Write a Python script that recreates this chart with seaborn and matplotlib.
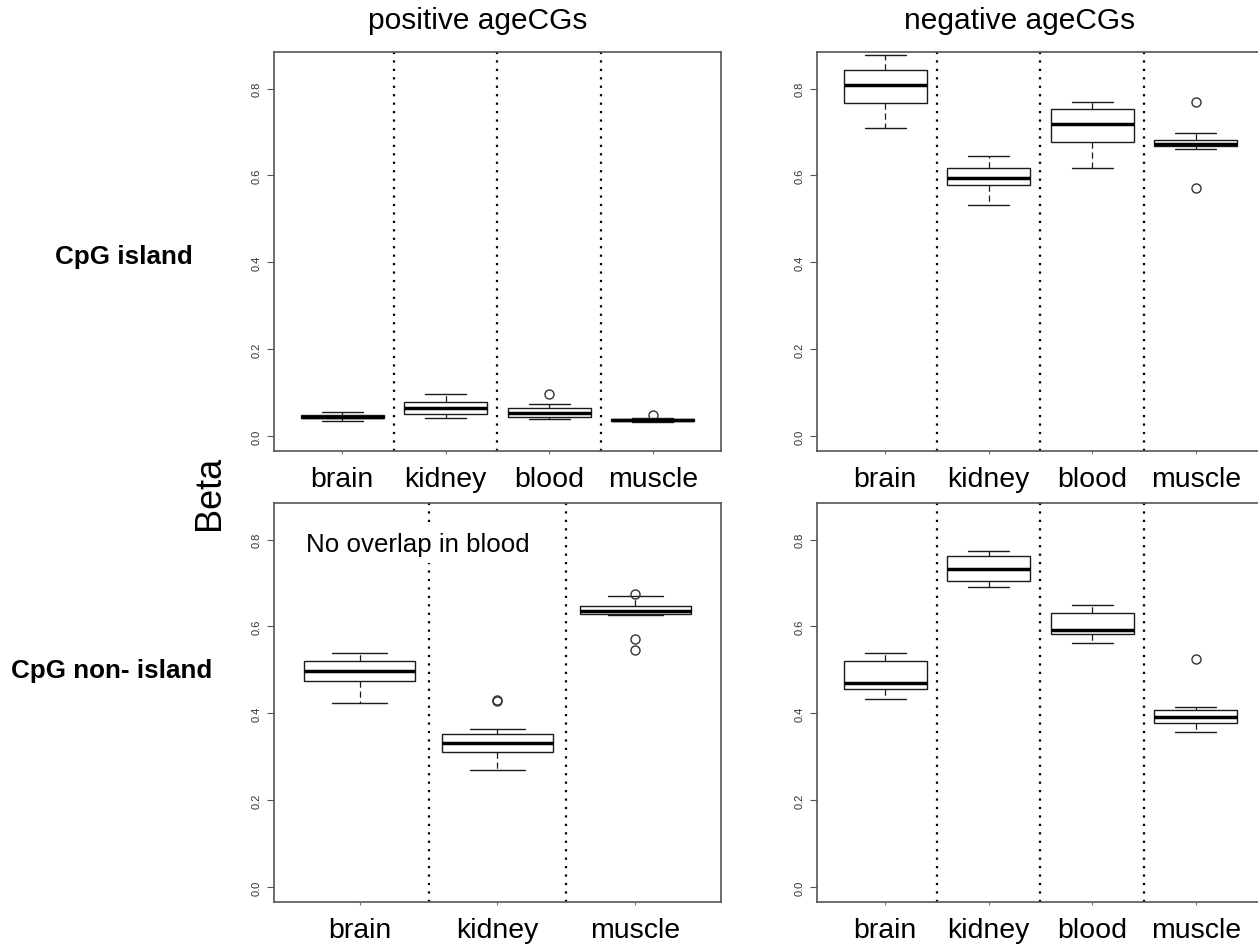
import numpy as np
import pandas as pd
import seaborn as sns
import matplotlib.pyplot as plt

sns.set_theme(style="white")
plt.rcParams['font.family'] = ['Liberation Sans', 'DejaVu Sans']
plt.rcParams['text.color'] = 'black'

# ---------------- data ----------------
tissues4 = ['brain', 'kidney', 'blood', 'muscle']
tissues3 = ['brain', 'kidney', 'muscle']
yticks = [0.0, 0.2, 0.4, 0.6, 0.8]
ytick_labels = ['0.0', '0.2', '0.4', '0.6', '0.8']
col_titles = ['positive ageCGs', 'negative ageCGs']
row_titles = ['CpG island', 'CpG non- island']
note_text = 'No overlap in blood'

# positive ageCGs, CpG island
pos_isl_brain = [0.035, 0.042, 0.042, 0.045, 0.045, 0.045, 0.048, 0.048, 0.056]
pos_isl_kidney = [0.043, 0.052, 0.052, 0.065, 0.065, 0.065, 0.079, 0.079, 0.096]
pos_isl_blood = [0.040, 0.044, 0.044, 0.053, 0.053, 0.053, 0.064, 0.073, 0.097]
pos_isl_muscle = [0.032, 0.035, 0.035, 0.037, 0.037, 0.037, 0.039, 0.041, 0.049]

# negative ageCGs, CpG island
neg_isl_brain = [0.708, 0.767, 0.767, 0.809, 0.809, 0.809, 0.843, 0.843, 0.876]
neg_isl_kidney = [0.532, 0.578, 0.578, 0.594, 0.594, 0.594, 0.618, 0.618, 0.645]
neg_isl_blood = [0.617, 0.677, 0.677, 0.718, 0.718, 0.718, 0.753, 0.753, 0.770]
neg_isl_muscle = [0.570, 0.661, 0.667, 0.672, 0.672, 0.672, 0.681, 0.697, 0.768]

# positive ageCGs, CpG non-island (no blood)
pos_non_brain = [0.424, 0.4735, 0.4735, 0.4975, 0.4975, 0.4975, 0.521, 0.521, 0.540]
pos_non_kidney = [0.269, 0.310, 0.310, 0.310, 0.332, 0.332, 0.332, 0.353, 0.353,
                  0.353, 0.365, 0.428, 0.431]
pos_non_muscle = [0.545, 0.572, 0.626, 0.629, 0.636, 0.636, 0.636, 0.646, 0.646,
                  0.646, 0.670, 0.670, 0.675]

# negative ageCGs, CpG non-island
neg_non_brain = [0.434, 0.457, 0.457, 0.471, 0.471, 0.471, 0.5205, 0.5205, 0.538]
neg_non_kidney = [0.691, 0.705, 0.705, 0.732, 0.732, 0.732, 0.761, 0.761, 0.774]
neg_non_blood = [0.562, 0.5826, 0.5826, 0.5926, 0.5926, 0.5926, 0.631, 0.631, 0.650]
neg_non_muscle = [0.358, 0.377, 0.377, 0.3915, 0.3915, 0.3915, 0.4076, 0.4146, 0.526]


def make_df(names, groups):
    rows = []
    for n, g in zip(names, groups):
        for v in g:
            rows.append((n, v))
    return pd.DataFrame(rows, columns=['tissue', 'beta'])


panels = [
    (tissues4, [pos_isl_brain, pos_isl_kidney, pos_isl_blood, pos_isl_muscle]),
    (tissues4, [neg_isl_brain, neg_isl_kidney, neg_isl_blood, neg_isl_muscle]),
    (tissues3, [pos_non_brain, pos_non_kidney, pos_non_muscle]),
    (tissues4, [neg_non_brain, neg_non_kidney, neg_non_blood, neg_non_muscle]),
]

W, H = 1258, 945
fig = plt.figure(figsize=(W / 100, H / 100), dpi=100)
fig.patch.set_facecolor('white')

# axes rectangles in pixels: left, top, right, bottom
rects = [(274, 53, 721, 452), (817, 53, 1264, 452),
         (274, 504, 721, 903), (817, 504, 1264, 903)]

axes = []
for (l, t, r, b), (names, groups) in zip(rects, panels):
    ax = fig.add_axes([l / W, 1 - b / H, (r - l) / W, (b - t) / H])
    df = make_df(names, groups)
    sns.boxplot(data=df, x='tissue', y='beta', order=names, ax=ax,
                color='white', linecolor='#1a1a1a', linewidth=1.0,
                width=0.8, whis=1.5,
                whiskerprops=dict(linestyle=(0, (5, 3)), linewidth=0.9),
                capprops=dict(linewidth=1.0),
                medianprops=dict(linewidth=2.5, color='black'),
                flierprops=dict(marker='o', markersize=6.5,
                                markerfacecolor='none',
                                markeredgecolor='#333333',
                                markeredgewidth=1.0))
    n = len(names)
    ext = 0.04 * n
    ax.set_xlim(-0.5 - ext, n - 0.5 + ext)
    ax.set_ylim(-0.034, 0.884)
    for k in range(n - 1):
        ax.axvline(k + 0.5, color='black', linewidth=1.6,
                   linestyle=(0, (1, 2.8)), zorder=1)
    ax.set_xlabel('')
    ax.set_ylabel('')
    ax.set_yticks(yticks)
    ax.set_yticklabels(ytick_labels, rotation=90, va='center',
                       fontsize=8, color='#333333')
    ax.tick_params(axis='y', length=5, width=0.8, color='#555555',
                   pad=4, left=True, direction='out')
    ax.tick_params(axis='x', length=2, width=0.8, color='#777777',
                   pad=9, bottom=True, direction='out', labelsize=20.5,
                   labelcolor='black')
    for s in ax.spines.values():
        s.set_color('#555555')
        s.set_linewidth(1.2)
    ax.grid(False)
    axes.append(ax)

# note with white background interrupting the dotted line
axes[2].text(-0.388, 0.7745, note_text, ha='left', va='baseline',
             fontsize=18.6, color='black', zorder=5,
             bbox=dict(facecolor='white', edgecolor='none', pad=5))

# column titles
fig.text(478 / W, 1 - 21 / H, col_titles[0], ha='center', va='center',
         fontsize=21.5, color='black')
fig.text(1020 / W, 1 - 21 / H, col_titles[1], ha='center', va='center',
         fontsize=21.5, color='black')

# row titles
fig.text(123.5 / W, 1 - 257 / H, row_titles[0], ha='center', va='center',
         fontsize=18.7, fontweight='bold', color='black')
fig.text(112 / W, 1 - 671 / H, row_titles[1], ha='center', va='center',
         fontsize=18.7, fontweight='bold', color='black')

# y label
fig.text(210 / W, 1 - 493 / H, 'Beta', rotation=90, ha='center',
         va='center', fontsize=26, color='black')

fig.savefig('out.png', dpi=100, facecolor='white')
